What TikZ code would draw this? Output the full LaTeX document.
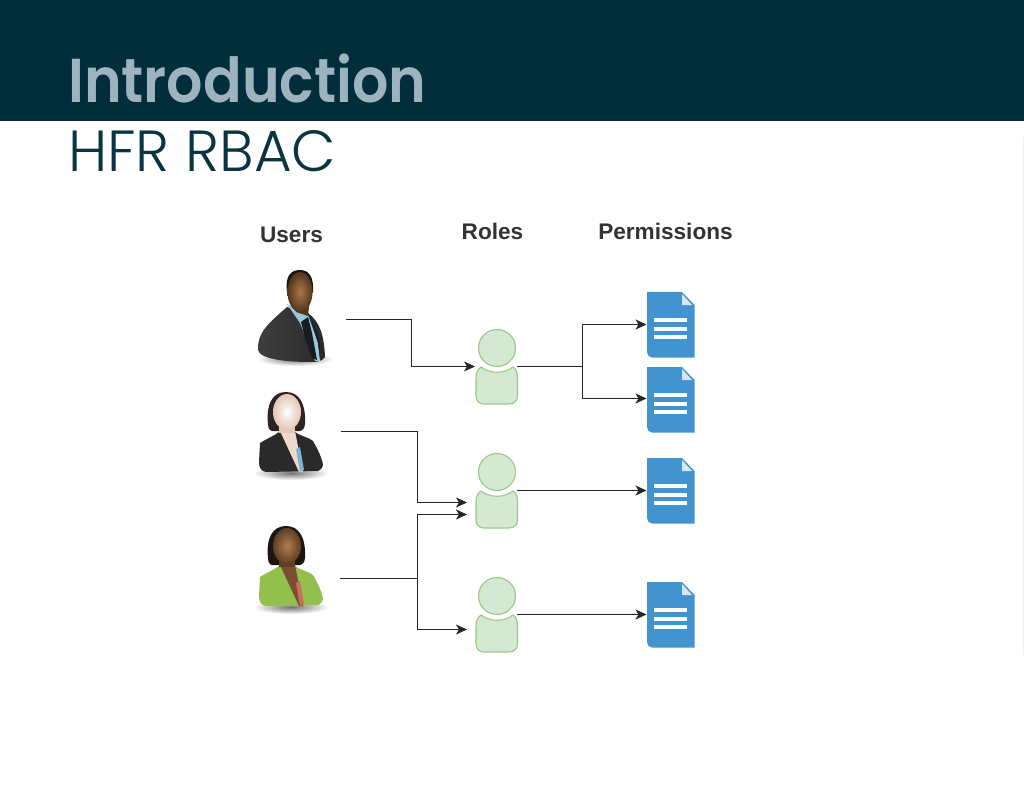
\documentclass[tikz,border=0pt]{standalone}
\usepackage{fontspec}
\setmainfont{Liberation Sans}
\newfontfamily\titlefont{Poppins SemiBold}
\newfontfamily\subtitlefont{Poppins Light}
\usetikzlibrary{arrows.meta,calc}
\definecolor{band}{HTML}{022D3B}
\definecolor{titlegrey}{HTML}{9DB3C0}
\definecolor{subtitlecol}{HTML}{0A3540}
\definecolor{rolefill}{HTML}{D5E8D4}
\definecolor{roleline}{HTML}{9CC788}
\definecolor{docblue}{HTML}{4393D0}
\definecolor{docfold}{HTML}{D6E8F5}
\definecolor{edgecream}{HTML}{F0EFD8}
\definecolor{suit}{HTML}{2A2A2A}
\definecolor{suitlight}{HTML}{3E3E3E}
\definecolor{shirtblue}{HTML}{9CC6DC}
\definecolor{tiecol}{HTML}{151C22}
\definecolor{manskin}{HTML}{A9794E}
\definecolor{manskindark}{HTML}{54341C}
\definecolor{hairdark}{HTML}{1C1512}
\definecolor{hairbrown}{HTML}{2E2320}
\definecolor{paleskin}{HTML}{E2C7B4}
\definecolor{palevee}{HTML}{EBD9CC}
\definecolor{blouseblue}{HTML}{7FB2D2}
\definecolor{jacketgreen}{HTML}{93BF4C}
\definecolor{darkskin}{HTML}{5E3D24}
\definecolor{darkvee}{HTML}{7A4E30}
\definecolor{blousered}{HTML}{C96F5F}
\definecolor{brownskin}{HTML}{B17D52}
\newcommand{\rolefig}[1]{%
 \begin{scope}[shift={(0,#1)}]
  \draw[rolebody] (497,348) circle (18.5);
  \draw[rolebody] (476,378) .. controls (476,372) and (478,369) .. (481,367)
    .. controls (490,374) and (504,374) .. (513,367)
    .. controls (516,369) and (517.5,372) .. (517.5,378)
    -- (517.5,396) .. controls (517.5,401) and (514,404) .. (509,404)
    -- (484,404) .. controls (479,404) and (476,401) .. (476,396) -- cycle;
 \end{scope}}
\newcommand{\docfig}[1]{%
 \begin{scope}[shift={(0,#1)}]
  \fill[docblue] (647,292) -- (682,292) -- (694.5,305) -- (694.5,357.5)
    -- (652,357.5) .. controls (649,357.5) and (647,355) .. (647,352) -- cycle;
  \fill[docfold] (682,294) -- (692,305) -- (682,305) -- cycle;
  \foreach \yy in {319.5,328.5,337}{\fill[white] (654,\yy-2) rectangle (687,\yy+2);}
 \end{scope}}
\newcommand{\womanfig}[7]{%
 \begin{scope}[shift={(0,#1)}]
  \shade[shadowblob] (291,473) ellipse (38 and 7);
  \fill[#6] (268,424) .. controls (266,405) and (272,392) .. (286,392)
    .. controls (300,392) and (306,405) .. (305,424)
    .. controls (305,430) and (300,432) .. (297,431) -- (275,431)
    .. controls (271,432) and (268,430) .. (268,424) -- cycle;
  \fill[#2] (260,443) .. controls (268,438) and (274,436) .. (279,432)
    -- (295,432) .. controls (300,436) and (308,437) .. (313,441)
    .. controls (318,450) and (322,458) .. (323,465)
    .. controls (322,469) and (320,470) .. (318,471) -- (266,472)
    .. controls (261,471) and (259,468) .. (259,462) -- cycle;
  \fill[#4] (280,431) -- (295,431) -- (303,472) -- (299,472) -- cycle;
  \fill[#5] (296,449) -- (300,447) -- (304,470) -- (300,472) -- cycle;
  \fill[#3] (279,424) rectangle (295,433);
  \shade[inner color=#7, outer color=#3] (287,412) ellipse (14 and 18);
 \end{scope}}
\tikzset{
 x=1pt,y=-1pt,
 iconbox/.style={inner sep=0pt,outer sep=0pt,minimum width=#1,minimum height=40pt},
 rolebody/.style={fill=rolefill,draw=roleline,line width=1.1pt},
 shadowblob/.style={inner color=black!55,outer color=white},
 link/.style={draw=black!85,line width=1.5pt},
 arrowlink/.style={link,-{Stealth[length=11pt,width=10pt,inset=3pt]}},
 collabel/.style={inner sep=0pt,anchor=base,text=black!80,font=\fontsize{22.6}{24}\selectfont\bfseries},
}
\begin{document}
\begin{tikzpicture}
\useasboundingbox (0,0) rectangle (1024,791);
\fill[white] (0,0) rectangle (1024,791);
\fill[band] (0,0) rectangle (1024,121);
\fill[edgecream] (1023,137) rectangle (1024,655);
\node[inner sep=0pt,anchor=base west,text=titlegrey] (title) at (68,103)
  {\titlefont\fontsize{62}{66}\selectfont\resizebox{358pt}{\height}{Introduction}};
\node[inner sep=0pt,anchor=base west,text=subtitlecol] (subtitle) at (68,172)
  {\subtitlefont\fontsize{58}{66}\selectfont\resizebox{268pt}{\height}{HFR RBAC}};
\node[collabel] (lusers) at (291.5,243) {Users};
\node[collabel] (lroles) at (492.5,240) {Roles};
\node[collabel] (lperm) at (665.5,240) {Permissions};
% man
\shade[shadowblob] (295,359) ellipse (38 and 7);
\shade[left color=suitlight,right color=suit] (258,345) .. controls (260,330) and (270,322) .. (287,307)
  -- (308,313) .. controls (320,322) and (324,335) .. (325,357)
  .. controls (322,361) and (318,362) .. (312,362)
  .. controls (290,362) and (260,360) .. (258,350) -- cycle;
\fill[shirtblue] (287,304) -- (300,323) -- (315,361) -- (320,361) -- (318,343) -- (308,315) -- cycle;
\fill[tiecol] (301,322) -- (308,317) -- (312,333) -- (317,360) -- (312,358) -- (305,338) -- cycle;
\fill[tiecol] (311,318) .. controls (318,330) and (321,345) .. (320,358) -- (318,343) -- cycle;
\fill[hairdark] (287,292) .. controls (285,277) and (290,270) .. (300,270)
  .. controls (309,270) and (314,277) .. (313,292) -- (308,298) -- (291,298) -- cycle;
\fill[manskindark] (289,296) -- (310,296) -- (308,316) -- (296,312) -- cycle;
\shade[inner color=manskin, outer color=manskindark] (300,292) ellipse (12.5 and 20);
\womanfig{0}{suit}{paleskin}{palevee}{blouseblue}{hairbrown}{white}
\womanfig{134}{jacketgreen}{darkskin}{darkvee}{blousered}{hairdark}{brownskin}
\rolefig{0}
\rolefig{124}
\rolefig{248}
\docfig{0}
\docfig{75}
\docfig{166}
\docfig{290}
% invisible anchors of the icons
\node[iconbox=90pt] (user1) at (301,319.5) {};
\node[iconbox=85pt] (user2) at (298.5,431.5) {};
\node[iconbox=85pt] (user3) at (297.5,578.5) {};
\node[iconbox=42pt] (role1) at (496,366.5) {};
\node[iconbox=42pt] (role2) at (496,490.5) {};
\node[iconbox=42pt] (role3) at (496,614.5) {};
\node[iconbox=48pt] (doc1) at (670.5,324.5) {};
\node[iconbox=48pt] (doc2) at (670.5,398.5) {};
\node[iconbox=48pt] (doc3) at (670.5,490.5) {};
\node[iconbox=48pt] (doc4) at (670.5,614.5) {};
\coordinate (in2a) at (467,502.5);
\coordinate (in2b) at (467,514.5);
\coordinate (in3) at (467,629.5);
\coordinate (inmid) at (417.5,578.5);
\coordinate (split1) at (582.5,366.5);
% connectors
\draw[arrowlink] (user1.east) -- (411.5,319.5) |- (role1.west);
\draw[arrowlink] (user2.east) -- (417.5,431.5) |- (in2a);
\draw[link] (user3.east) -- (inmid);
\draw[arrowlink] (inmid) |- (in2b);
\draw[arrowlink] (inmid) |- (in3);
\draw[link] (role1.east) -- (split1);
\draw[arrowlink] (split1) |- (doc1.west);
\draw[arrowlink] (split1) |- (doc2.west);
\draw[arrowlink] (role2.east) -- (doc3.west);
\draw[arrowlink] (role3.east) -- (doc4.west);
\end{tikzpicture}
\end{document}
